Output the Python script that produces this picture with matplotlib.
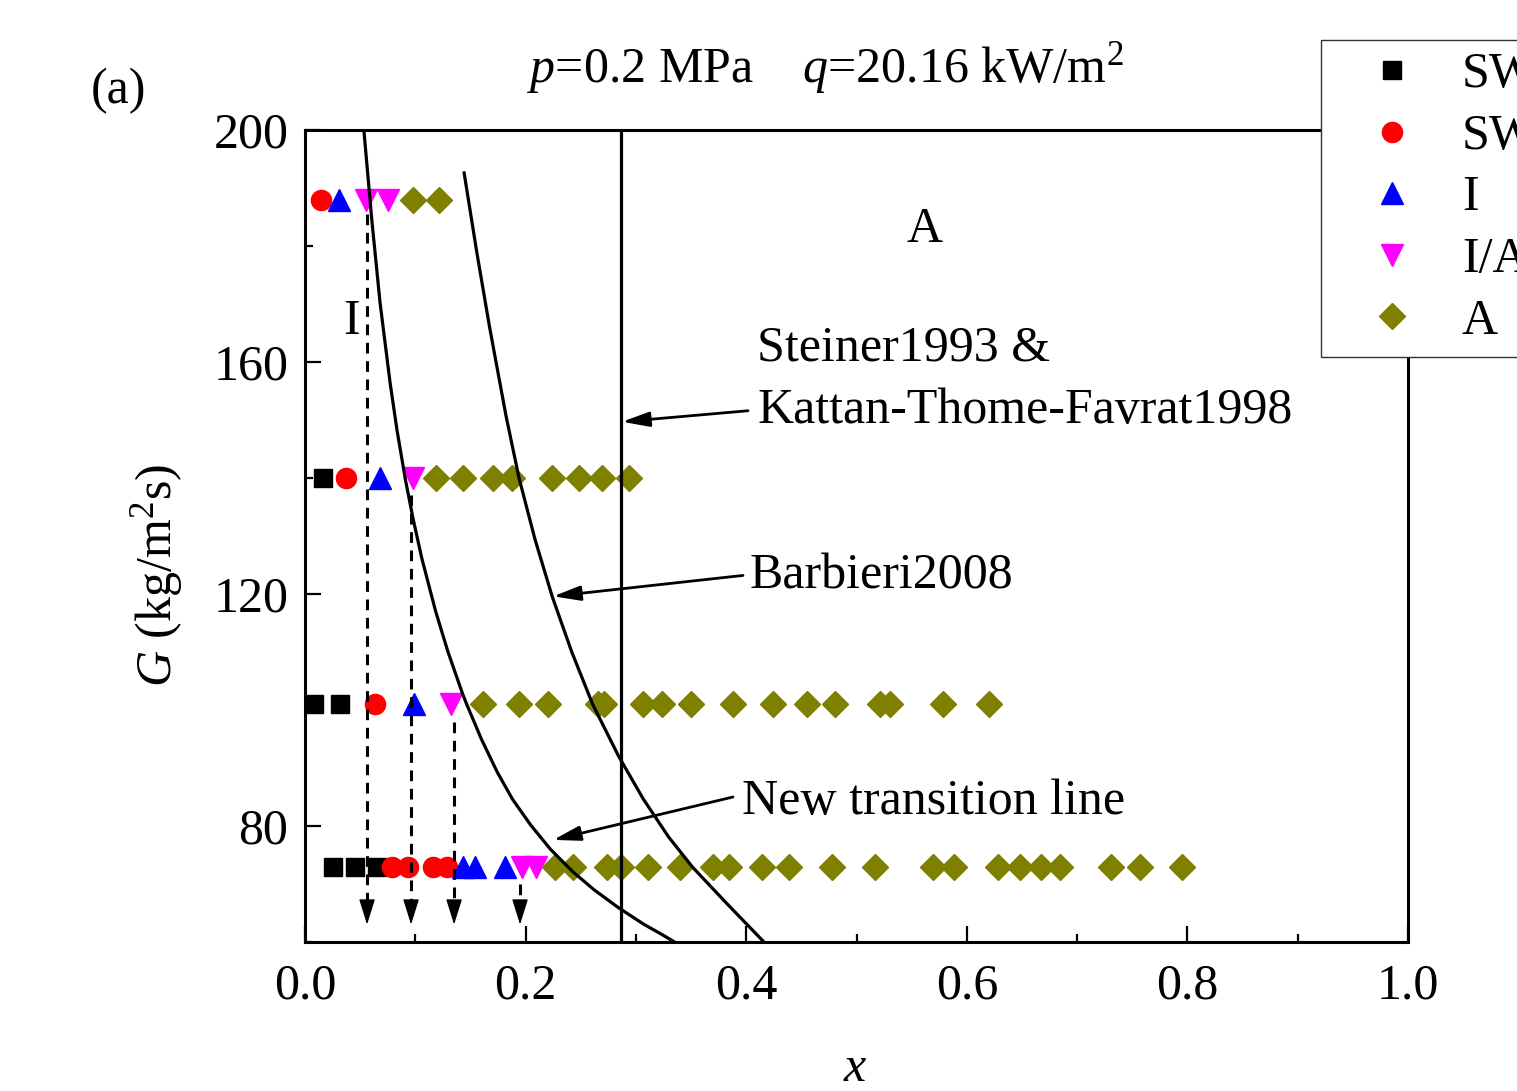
import matplotlib
matplotlib.use('Agg')
import matplotlib.pyplot as plt
from matplotlib.ticker import MultipleLocator

plt.rcParams['font.family'] = ['Liberation Serif', 'DejaVu Serif']
plt.rcParams['mathtext.fontset'] = 'custom'
plt.rcParams['mathtext.rm'] = 'Liberation Serif'
plt.rcParams['mathtext.it'] = 'Liberation Serif:italic'

# ---------------- data ----------------
sw_x = [0.025, 0.045, 0.065, 0.008, 0.032, 0.016]
sw_G = [73, 73, 73, 101, 101, 140]

swi_x = [0.079, 0.093, 0.116, 0.129, 0.063, 0.037, 0.0145]
swi_G = [73, 73, 73, 73, 101, 140, 188]

i_x = [0.143, 0.154, 0.181, 0.099, 0.068, 0.031]
i_G = [73, 73, 73, 101, 140, 188]

ia_x = [0.197, 0.209, 0.132, 0.098, 0.055, 0.075]
ia_G = [73, 73, 101, 140, 188, 188]

a_x_73 = [0.227, 0.243, 0.274, 0.286, 0.311, 0.340, 0.370, 0.384, 0.414, 0.439,
          0.478, 0.517, 0.569, 0.588, 0.628, 0.648, 0.667, 0.684, 0.731, 0.757, 0.795]
a_x_101 = [0.161, 0.194, 0.220, 0.266, 0.271, 0.306, 0.324, 0.350, 0.388, 0.424,
           0.455, 0.480, 0.521, 0.530, 0.578, 0.620]
a_x_140 = [0.119, 0.143, 0.170, 0.188, 0.224, 0.248, 0.269, 0.294]
a_x_188 = [0.098, 0.121]

# transition lines
new_x = [0.0533, 0.0605, 0.0680, 0.0771, 0.0834, 0.0908, 0.0979, 0.1059, 0.1184,
         0.1296, 0.1426, 0.1465, 0.1598, 0.1742, 0.1881, 0.2044, 0.2224, 0.2428,
         0.2620, 0.2842, 0.3067, 0.3257, 0.3348]
new_G = [200.0, 184.5, 170.2, 156.4, 148.2, 139.9, 133.0, 126.1, 117.0,
         110.0, 102.9, 101.0, 95.0, 89.3, 84.6, 80.2, 76.0, 72.1,
         69.0, 65.9, 63.1, 61.05, 60.0]

barb_x = [0.1442, 0.1558, 0.1672, 0.1823, 0.1941, 0.2085, 0.2240, 0.2418, 0.2607,
          0.2842, 0.3068, 0.3296, 0.3513, 0.3825, 0.4160]
barb_G = [192.6, 178.8, 166.1, 150.6, 139.9, 129.4, 119.6, 110.0, 101.0,
          92.05, 84.6, 78.1, 72.9, 66.6, 60.0]

steiner_x = 0.2865

# dashed I/A transition markers
dash_x = [0.0562, 0.0961, 0.1351, 0.1949]
dash_top = [185.5, 137.0, 98.0, 70.0]

labels = ['SW', 'SW/I', 'I', 'I/A', 'A']

# ---------------- figure ----------------
fig = plt.figure(figsize=(15.17, 10.91), dpi=100)
ax = fig.add_axes([0.2011, 0.1366, 0.7271, 0.7442])

ms_kw = dict(linestyle='none', zorder=2)
ax.plot(sw_x, sw_G, marker='s', ms=12.5, color='black', mec='black', label=labels[0], **ms_kw)
ax.plot(swi_x, swi_G, marker='o', ms=14.5, color='red', mec='red', label=labels[1], **ms_kw)
ax.plot(i_x, i_G, marker='^', ms=16, color='blue', mec='blue', label=labels[2], **ms_kw)
ax.plot(ia_x, ia_G, marker='v', ms=16, color='magenta', mec='magenta', label=labels[3], **ms_kw)
a_x = a_x_73 + a_x_101 + a_x_140 + a_x_188
a_G = [73] * len(a_x_73) + [101] * len(a_x_101) + [140] * len(a_x_140) + [188] * len(a_x_188)
ax.plot(a_x, a_G, marker='D', ms=13, color='#808000', mec='#808000', label=labels[4], **ms_kw)

ax.plot(new_x, new_G, color='black', lw=2.3, zorder=3, solid_joinstyle='round')
ax.plot(barb_x, barb_G, color='black', lw=2.3, zorder=3, solid_joinstyle='round')
ax.axvline(steiner_x, color='black', lw=2.3, zorder=3)

for xd, gt in zip(dash_x, dash_top):
    ax.plot([xd, xd], [gt, 66.8], color='black', lw=2.2, dashes=(3.5, 2.5), zorder=3)
    ax.annotate('', xy=(xd, 63.0), xytext=(xd, 66.9),
                arrowprops=dict(arrowstyle='-|>,head_length=1.6,head_width=0.5',
                                mutation_scale=10, color='black', lw=1.0,
                                shrinkA=0, shrinkB=0), zorder=3)

ax.set_xlim(0, 1.0)
ax.set_ylim(60, 200)
ax.xaxis.set_major_locator(MultipleLocator(0.2))
ax.xaxis.set_minor_locator(MultipleLocator(0.1))
ax.yaxis.set_major_locator(MultipleLocator(40))
ax.yaxis.set_minor_locator(MultipleLocator(20))
ax.set_xticks([0.0, 0.2, 0.4, 0.6, 0.8, 1.0])
ax.set_xticklabels(['0.0', '0.2', '0.4', '0.6', '0.8', '1.0'])
ax.tick_params(which='major', direction='in', length=11.5, width=1.6, labelsize=36, pad=12)
ax.tick_params(which='minor', direction='in', length=5.8, width=1.6)
ax.tick_params(axis='x', which='major', pad=15)
for s in ax.spines.values():
    s.set_linewidth(2.2)

ax.set_xlabel(r'$\it{x}$', fontsize=36)
ax.xaxis.set_label_coords(0.499, -0.128)
ax.set_ylabel(r'$\it{G}$ (kg/m$^2$s)', fontsize=36)
ax.yaxis.set_label_coords(-0.109, 0.452)

txt_kw = dict(fontsize=36, color='black')
ax.text(0.562, 182.8, 'A', ha='center', va='center', **txt_kw)
ax.text(0.0426, 167.0, 'I', ha='center', va='center', **txt_kw)
ax.text(0.410, 162.4, 'Steiner1993 &', ha='left', va='center', **txt_kw)
ax.text(0.410, 151.6, 'Kattan-Thome-Favrat1998', ha='left', va='center', **txt_kw)
ax.text(0.4034, 123.1, 'Barbieri2008', ha='left', va='center', **txt_kw)
ax.text(0.396, 84.2, 'New transition line', ha='left', va='center', **txt_kw)

arr = dict(arrowstyle='-|>,head_length=1.65,head_width=0.45', mutation_scale=10,
           color='black', lw=2.0, shrinkA=0, shrinkB=0)
ax.annotate('', xy=(0.2875, 149.7), xytext=(0.4016, 151.6), arrowprops=arr)
ax.annotate('', xy=(0.225, 119.6), xytext=(0.397, 123.2), arrowprops=arr)
ax.annotate('', xy=(0.225, 77.6), xytext=(0.388, 85.0), arrowprops=arr)

fig.text(0.544, 0.938, r'$\it{p}$=0.2 MPa    $\it{q}$=20.16 kW/m$^2$',
         ha='center', va='center', fontsize=36)
fig.text(0.0778, 0.917, '(a)', ha='center', va='center', fontsize=36)

leg = ax.legend(loc='upper left', bbox_to_anchor=(1321 / 1517, 1 - 40 / 1091),
                bbox_transform=fig.transFigure, borderaxespad=0, fontsize=36,
                numpoints=1, frameon=True, fancybox=False, borderpad=0.24,
                handlelength=2.36, handletextpad=0.22, labelspacing=0.3)
leg.get_frame().set_edgecolor('#333333')
leg.get_frame().set_linewidth(1.0)
leg.get_frame().set_alpha(1.0)

fig.savefig('out.png', dpi=100)
